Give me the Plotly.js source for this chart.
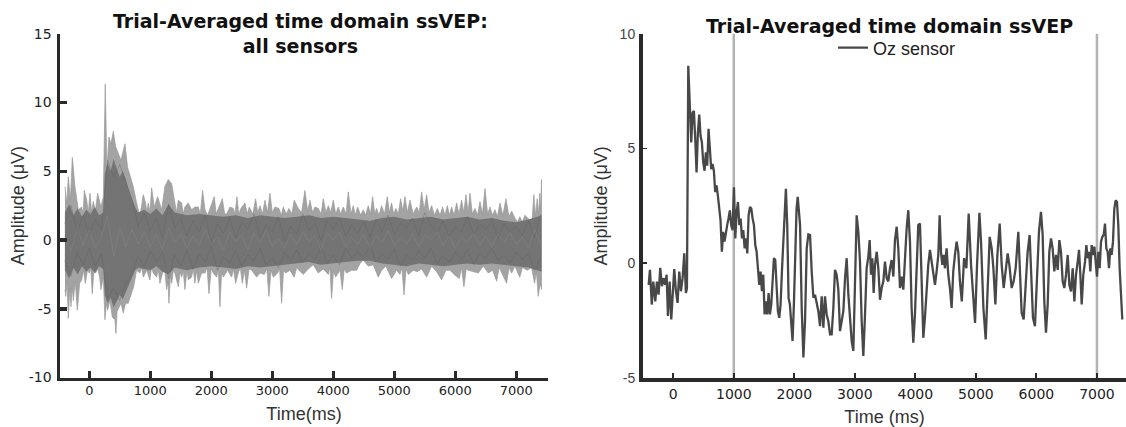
<!DOCTYPE html>
<html><head><meta charset="utf-8">
<script src="https://cdn.plot.ly/plotly-3.0.1.min.js"></script>
<style>html,body{margin:0;padding:0;background:#fff}#chart{width:1126px;height:427px}</style>
</head><body><div id="chart"></div>
<script>
// ---------- Left panel: all sensors (envelope of the sensor traces) ----------
const upperT = [-398,-370,-344,-310,-278,-235,-180,-125,-100,-82,-43,-15,11,40,66,100,137,191,230,262,290,322,355,394,432,475,519,557,585,628,672,721,776,830,885,923,945,967,995,1022,1065,1120,1186,1240,1295,1350,1404,1430,1459,1514,1540,1568,1623,1677,1732,1787,1820,1858,1897,1940,1979,2049,2080,2115,2181,2220,2252,2306,2361,2390,2421,2450,2486,2552,2590,2623,2680,2727,2760,2798,2840,2880,2920,2962,3000,3044,3109,3150,3180,3230,3273,3320,3360,3426,3480,3535,3580,3617,3660,3699,3754,3800,3836,3880,3918,3960,4000,4040,4082,4120,4164,4210,4246,4290,4328,4360,4399,4450,4491,4530,4573,4610,4645,4680,4710,4750,4792,4840,4885,4920,4956,4990,5027,5065,5104,5140,5175,5215,5257,5310,5366,5410,5448,5490,5530,5570,5612,5660,5705,5750,5792,5830,5869,5905,5940,5980,6022,6060,6104,6140,6175,6210,6241,6280,6323,6365,6405,6445,6487,6530,6569,6610,6651,6690,6733,6780,6831,6880,6924,6977,7020,7058,7100,7140,7222,7260,7288,7315,7343,7365,7386,7400,7414];
const upperV = [3.9,2.6,4.6,2.9,6.0,3.9,2.2,2.4,1.9,3.6,2.9,2.0,3.4,2.0,2.8,2.1,3.4,2.4,3.15,11.35,5.1,7.5,7.0,7.9,6.8,6.3,5.8,6.5,7.0,5.3,4.6,3.9,2.7,1.7,3.3,2.7,2.0,2.7,2.0,3.8,2.4,3.15,2.2,3.9,4.4,4.1,2.7,2.0,2.9,2.7,1.9,2.4,2.7,2.2,2.4,2.4,1.9,3.6,2.2,1.8,2.3,3.15,1.9,2.3,3.0,1.9,1.9,2.4,2.3,1.9,3.15,1.9,2.3,2.7,1.9,2.4,1.9,3.0,2.0,2.5,1.9,2.9,2.0,3.4,2.0,2.4,2.3,1.8,2.4,1.9,2.3,1.9,2.9,2.3,2.0,3.6,2.1,2.9,2.0,2.4,2.3,1.9,3.0,2.0,2.5,2.0,2.9,1.9,2.4,1.9,2.4,1.9,3.5,1.9,2.5,1.8,2.4,1.8,2.2,1.8,2.5,1.9,3.15,1.9,2.3,1.8,2.5,1.9,3.15,2.0,2.7,1.9,2.3,1.9,3.0,2.1,3.15,2.0,2.9,1.9,2.4,2.0,3.5,2.2,3.3,2.0,2.5,1.8,2.3,1.8,2.4,1.8,2.5,1.8,2.4,1.8,2.7,1.9,2.9,2.0,3.3,2.0,3.4,1.9,2.3,1.8,2.8,1.9,3.75,1.9,2.4,1.8,2.2,1.7,2.7,1.8,3.0,1.7,2.1,1.6,1.3,1.7,1.3,1.8,1.45,1.5,3.3,1.8,3.0,1.9,3.4,2.2,4.4];
const lowerT = [-398,-385,-365,-344,-320,-300,-280,-262,-230,-196,-158,-125,-95,-65,-30,0,25,49,75,104,140,170,191,230,257,280,301,339,377,421,437,455,475,519,557,595,639,683,727,776,830,860,885,940,994,1020,1049,1104,1130,1158,1213,1240,1268,1290,1306,1330,1350,1380,1404,1459,1490,1514,1540,1568,1600,1623,1677,1705,1732,1760,1787,1841,1897,1930,1962,2000,2033,2088,2115,2142,2170,2197,2268,2334,2365,2399,2443,2475,2508,2545,2579,2620,2661,2743,2798,2869,2910,2945,2980,3016,3087,3120,3153,3185,3218,3289,3360,3400,3437,3508,3590,3672,3754,3836,3918,3945,3972,4005,4038,4109,4147,4180,4218,4300,4382,4440,4491,4573,4655,4737,4792,4863,4956,5038,5093,5125,5159,5195,5230,5312,5377,5448,5530,5612,5694,5776,5847,5913,5979,6066,6100,6142,6180,6213,6295,6377,6459,6541,6612,6678,6720,6760,6842,6880,6924,6977,7058,7100,7180,7250,7300,7330,7360,7390,7414];
const lowerV = [-3.6,-4.1,-3.0,-5.7,-3.5,-4.85,-3.3,-4.4,-3.0,-5.1,-3.15,-2.9,-2.2,-3.15,-2.2,-2.4,-2.1,-3.9,-2.3,-2.4,-2.1,-2.7,-3.6,-2.7,-5.8,-4.6,-5.1,-4.4,-5.6,-5.8,-6.8,-5.2,-5.1,-4.6,-5.3,-4.6,-4.6,-4.1,-3.4,-2.2,-2.4,-2.0,-2.7,-2.2,-2.9,-2.0,-2.4,-2.7,-2.1,-3.15,-2.2,-2.3,-3.6,-3.0,-4.6,-2.6,-3.15,-2.2,-2.4,-3.4,-2.3,-2.7,-2.2,-3.6,-2.2,-2.9,-2.7,-2.1,-3.15,-2.2,-3.15,-2.4,-2.4,-2.0,-3.9,-2.1,-2.4,-2.7,-2.1,-4.85,-2.3,-2.7,-2.2,-2.7,-2.1,-3.15,-2.4,-2.0,-3.15,-2.2,-3.5,-2.1,-2.2,-2.7,-2.4,-2.5,-2.1,-4.1,-2.2,-2.7,-2.4,-2.1,-4.6,-2.2,-2.4,-2.2,-2.7,-2.0,-2.2,-2.5,-2.1,-1.8,-2.4,-2.1,-2.5,-2.0,-4.25,-2.2,-2.7,-2.2,-3.6,-2.1,-2.4,-2.2,-2.2,-1.7,-1.45,-1.9,-1.8,-2.7,-2.2,-1.9,-2.8,-2.2,-2.5,-2.0,-4.0,-2.1,-2.5,-2.2,-2.3,-2.1,-2.7,-1.9,-2.3,-2.9,-2.2,-2.2,-2.5,-2.8,-2.0,-3.4,-2.1,-2.2,-2.3,-2.4,-1.9,-2.4,-2.2,-3.0,-2.0,-2.3,-3.15,-2.0,-2.4,-1.9,-2.7,-2.0,-2.2,-2.0,-3.15,-2.3,-4.1,-3.15,-3.6];
// dense core of the sensor bundle
const coreT = [-400,-330,-260,-190,-120,-50,20,90,160,230,255,300,350,400,450,500,550,600,650,700,750,800,900,1000,1100,1200,1300,1400,1500,1600,1800,2000,2200,2400,2600,2800,3000,3200,3400,3600,3800,4000,4200,4400,4600,4800,5000,5200,5400,5600,5800,6000,6200,6400,6600,6800,7000,7200,7414];
const coreUpper = [2.0,2.6,1.8,2.3,1.7,2.2,1.9,2.4,1.8,2.0,4.8,5.6,5.0,5.9,5.2,4.6,5.0,4.4,3.6,3.0,2.4,2.0,2.2,1.9,2.3,1.8,2.6,2.0,1.9,1.8,1.9,1.8,1.7,1.8,1.6,1.8,1.7,1.6,1.7,1.8,1.6,1.7,1.6,1.5,1.4,1.6,1.7,1.5,1.6,1.7,1.5,1.6,1.7,1.5,1.6,1.4,1.3,1.5,1.8];
const coreLower = [-2.2,-2.8,-2.0,-2.5,-1.9,-2.3,-2.0,-2.4,-1.9,-2.1,-4.0,-4.6,-4.2,-4.9,-4.5,-4.0,-4.3,-3.8,-3.3,-2.7,-2.2,-2.0,-2.1,-2.2,-1.9,-2.3,-2.5,-2.0,-2.1,-2.2,-2.0,-1.9,-2.0,-2.1,-1.9,-2.0,-1.9,-1.8,-1.7,-1.6,-1.8,-1.7,-1.6,-1.5,-1.5,-1.7,-1.8,-1.9,-1.7,-1.8,-1.9,-1.8,-1.7,-1.8,-1.7,-1.8,-1.9,-2.0,-2.3];
// a few individual sensors visible inside the bundle
const sensorT = [-400,-300,-200,-100,0,100,200,300,400,500,600,700,800,900,1000,1100,1200,1300,1400,1500,1600,1700,1800,1900,2000,2100,2200,2300,2400,2500,2600,2700,2800,2900,3000,3100,3200,3300,3400,3500,3600,3700,3800,3900,4000,4100,4200,4300,4400,4500,4600,4700,4800,4900,5000,5100,5200,5300,5400,5500,5600,5700,5800,5900,6000,6100,6200,6300,6400,6500,6600,6700,6800,6900,7000,7100,7200,7300,7400];
const sensorA = [1.2,2.5,0.6,1.8,0.4,1.5,0.8,5.8,4.6,5.5,4.2,3.0,1.0,1.9,0.7,1.6,0.2,2.6,0.9,1.5,0.3,1.4,0.6,1.8,-0.2,1.2,0.5,1.6,0.1,1.3,0.8,1.9,0.2,1.1,0.6,1.7,-0.1,1.0,0.4,1.9,0.7,1.2,0.0,1.4,0.8,1.6,0.3,1.1,0.5,1.3,0.2,1.5,0.6,1.8,0.4,1.2,0.9,1.6,0.3,2.0,1.1,0.5,1.4,0.2,1.0,0.6,1.7,0.4,1.1,0.8,1.5,0.1,1.2,0.6,1.0,0.3,1.4,0.2,1.9];
const sensorB = [-1.5,-2.6,-0.9,-1.8,-0.6,-1.9,-1.0,-4.2,-3.5,-4.4,-3.1,-2.5,-1.2,-1.9,-0.8,-1.6,-0.9,-2.8,-1.1,-1.9,-0.7,-2.1,-1.0,-1.6,-0.5,-2.2,-1.2,-1.7,-0.8,-1.9,-1.1,-1.5,-0.6,-1.8,-1.3,-2.0,-0.9,-1.5,-0.7,-1.6,-1.0,-1.4,-0.5,-1.7,-1.1,-1.8,-0.6,-1.3,-0.9,-1.2,-0.4,-1.6,-1.0,-1.4,-0.7,-1.9,-1.1,-1.5,-0.8,-1.3,-0.6,-1.7,-1.2,-1.6,-0.9,-1.4,-0.7,-1.8,-1.0,-1.3,-0.6,-1.5,-1.1,-1.7,-0.9,-1.4,-1.0,-2.2,-1.3];
const sensorC = [0.3,-0.8,0.9,-0.4,0.7,-0.6,0.2,1.8,-1.2,0.9,-0.5,0.8,-0.3,0.6,-0.5,0.4,-0.7,0.9,-0.2,0.5,-0.6,0.3,-0.4,0.8,-0.3,0.2,-0.8,0.6,-0.1,0.4,-0.7,0.5,-0.2,0.7,-0.5,0.1,-0.6,0.4,-0.3,0.6,-0.1,0.3,-0.7,0.5,0.0,0.6,-0.5,0.2,-0.3,0.4,-0.6,0.3,-0.2,0.7,-0.4,0.2,-0.3,0.5,-0.5,0.4,0.0,0.6,-0.4,0.3,-0.6,0.2,-0.2,0.5,-0.4,0.3,-0.5,0.4,-0.1,0.5,-0.3,0.2,-0.6,0.8,-0.4];

// ---------- Right panel: Oz sensor ----------
const ozTime = [-407,-385,-355,-330,-297,-270,-242,-215,-187,-160,-132,-110,-88,-60,-33,-6,16,44,71,99,127,154,182,209,226,248,275,297,319,341,363,385,407,429,451,473,495,517,539,561,583,605,627,649,671,693,715,737,759,781,803,825,847,869,891,913,935,957,979,1003,1025,1047,1069,1091,1113,1135,1157,1179,1201,1223,1245,1267,1289,1311,1333,1355,1377,1399,1421,1443,1465,1487,1509,1531,1553,1575,1597,1619,1641,1663,1685,1707,1729,1751,1773,1795,1817,1839,1861,1883,1905,1927,1949,1971,1993,2015,2037,
2056,2095,2122,2150,2177,2205,2232,2260,2287,2315,2342,2370,2397,2425,2452,2480,2507,2535,2562,2590,2617,2645,2672,2700,2727,2755,2783,2810,2838,2865,2893,2920,2948,2975,3003,3030,3058,3085,3113,3140,3168,3195,3223,3245,3267,3289,3311,3333,3361,3388,3416,3443,3471,3498,3526,3553,3581,3608,3636,3663,3691,3718,3746,3773,3801,3828,3856,3883,3911,3938,3966,3993,4021,4048,4076,4103,4131,4158,4186,4213,4241,4268,4296,4324,4351,4379,4401,4423,4445,4467,4489,4516,4544,4571,4599,4626,4654,4681,4709,4736,
4767,4805,4843,4881,4920,4948,4986,5019,5058,5085,5124,5162,5195,5228,5261,5289,5322,5355,5393,5426,5459,5492,5525,5553,5591,5624,5657,5701,5729,5756,5789,5822,5855,5888,5910,5943,5976,6009,6042,6075,6103,6130,6158,6186,6213,6241,6268,6296,6323,6351,6379,6406,6434,6461,6489,6517,6544,6572,6599,6627,6654,6682,6704,6726,6748,6775,6803,6825,6847,6869,6891,6913,6935,6957,6979,7001,7023,7045,7067,7089,7111,7133,7155,7177,7199,7221,7243,7265,7287,7309,7331,7353,7375,7397,7419];
const ozAmp = [-0.94,-0.29,-1.8,-0.8,-1.66,-0.8,-1.37,-0.2,-1.0,-0.65,-0.94,-0.5,-2.3,-0.8,-2.45,-0.94,-0.25,-1.22,-1.73,-0.36,-1.22,-0.65,0.43,-1.3,-1.1,8.6,6.84,5.26,6.56,6.63,5.4,3.96,5.7,6.48,5.55,5.26,4.4,4.03,4.83,4.25,5.86,4.83,4.1,4.32,4.03,3.1,3.39,2.95,2.38,1.87,0.5,1.37,0.94,1.22,1.66,1.95,2.3,1.66,1.44,3.31,1.08,2.23,2.67,1.66,1.95,1.08,1.44,0.65,1.08,0.43,2.09,2.45,2.38,1.95,1.66,0.79,0.5,-0.22,-0.94,-0.36,-1.22,-0.5,-2.23,-1.66,-2.23,-1.3,-2.23,-1.8,-0.65,0.22,0.14,-1.22,-2.09,-2.38,-1.8,-0.36,0.94,2.23,3.24,1.66,-1.51,-1.8,-2.67,-3.39,-1.8,0.5,2.38,
2.89,1.66,-1.95,-4.1,-2.5,0.65,1.26,1.23,-0.36,-1.5,-1.37,-1.73,-2.09,-2.74,-1.44,-2.81,-1.44,-2.24,-2.53,-3.1,-3.1,-1.95,-0.29,-0.5,-1.15,-2.96,-2.53,-2.09,-0.65,0.22,-1.37,-2.53,-3.39,-3.82,-1.37,2.09,1.37,0.07,-2.53,-4.04,-2.24,-0.22,0.29,1.01,-0.5,0.22,-1.3,-0.07,0.5,-0.22,-1.59,-1.08,-0.79,0.07,-0.65,-0.79,-0.22,0.14,-0.58,1.01,1.59,0.65,-1.08,-0.58,-1.15,0.5,1.52,2.31,0.94,-1.95,-3.46,-2.24,-0.5,1.66,1.73,-1.08,-3.25,-2.38,-0.94,-0.07,0.58,0.07,-0.5,-0.94,-0.36,0.36,2.09,0.5,-0.07,0.36,-0.22,0.65,-0.5,-1.08,-1.95,-0.36,0.36,0.94,0.5,-0.79,
-1.66,0.22,-0.22,2.16,-0.07,-1.08,-2.6,-0.07,2.2,0.94,-1.95,-3.32,-1.37,1.15,0.65,-0.22,-1.8,0.36,1.73,-0.07,-1.08,-0.36,0.43,-0.07,-1.08,-0.79,-0.22,1.37,-0.22,-2.16,-2.45,-0.94,0.5,1.23,-0.07,-2.38,-2.74,-0.22,1.37,2.24,1.23,-1.66,-3.03,-1.8,0.5,1.08,0.65,-0.36,0.36,-0.29,1.01,0.5,-0.79,-1.08,-0.5,0.36,-0.94,-1.23,-0.22,-1.66,-0.5,0.07,0.58,-0.5,-1.8,-0.5,0.07,0.79,0.22,0.5,-0.36,0.79,0.36,0.72,0.07,-0.58,0.5,-0.22,0.94,1.15,1.23,1.73,0.65,0.5,-0.22,0.65,0.36,0.94,2.38,2.74,2.67,1.66,-0.22,-1.37,-2.45];
const markerTimes = [1000, 7000];   // stimulus on / off

// ---------- ticks ----------
const leftXTicks = [0,1000,2000,3000,4000,5000,6000,7000];
const leftXText = ['0','1000','2000','3000','4000','5000','6000','7000'];
const leftYTicks = [-10,-5,0,5,10,15];
const leftYText = ['-10','-5','0','5','10','15'];
const rightXTicks = [0,1000,2000,3000,4000,5000,6000,7000];
const rightXText = ['0','1000','2000','3000','4000','5000','6000','7000'];
const rightYTicks = [-5,0,5,10];
const rightYText = ['-5','0','5','10'];

const W = 1126, H = 427;
const rev = a => a.slice().reverse();

const traces = [
  {x: upperT.concat(rev(lowerT)), y: upperV.concat(rev(lowerV)), type:'scatter', mode:'lines',
   fill:'toself', fillcolor:'#a3a3a3', line:{color:'#999999', width:0.7}, xaxis:'x', yaxis:'y', showlegend:false, hoverinfo:'skip'},
  {x: coreT.concat(rev(coreT)), y: coreUpper.concat(rev(coreLower)), type:'scatter', mode:'lines',
   fill:'toself', fillcolor:'#747474', line:{color:'#747474', width:0}, xaxis:'x', yaxis:'y', showlegend:false, hoverinfo:'skip'},
  {x: sensorT, y: sensorA, type:'scatter', mode:'lines', line:{color:'#5e5e5e', width:0.6}, opacity:0.6, xaxis:'x', yaxis:'y', showlegend:false},
  {x: sensorT, y: sensorB, type:'scatter', mode:'lines', line:{color:'#5e5e5e', width:0.6}, opacity:0.6, xaxis:'x', yaxis:'y', showlegend:false},
  {x: sensorT, y: sensorC, type:'scatter', mode:'lines', line:{color:'#8c8c8c', width:0.6}, opacity:0.7, xaxis:'x', yaxis:'y', showlegend:false},
  {x: ozTime, y: ozAmp, type:'scatter', mode:'lines', name:'Oz sensor',
   line:{color:'#484848', width:2.3}, xaxis:'x2', yaxis:'y2', showlegend:true}
];

const axisTitleFont = {family:'Liberation Sans, Arial, sans-serif', size:18, color:'#333'};
const layout = {
  width:W, height:H, margin:{l:0, r:0, t:0, b:0},
  paper_bgcolor:'#fff', plot_bgcolor:'#fff',
  xaxis:{domain:[60/W, 548/W], range:[-480,7520], anchor:'y', showgrid:false, zeroline:false,
    showline:true, linecolor:'#2a2a2a', linewidth:3.5,
    ticks:'inside', ticklen:7, tickwidth:3.5, tickcolor:'#2a2a2a',
    tickmode:'array', tickvals:leftXTicks, ticktext:leftXText, ticklabelstandoff:-2,
    tickfont:{family:'DejaVu Sans, Verdana, sans-serif', size:13, color:'#222'},
    title:{text:'Time(ms)', font:axisTitleFont, standoff:12}, automargin:false},
  yaxis:{domain:[1-377.5/H, 1-33.8/H], range:[-10,15], anchor:'x', showgrid:false, zeroline:false,
    showline:true, linecolor:'#2a2a2a', linewidth:3.5,
    ticks:'inside', ticklen:7, tickwidth:3.5, tickcolor:'#2a2a2a',
    tickmode:'array', tickvals:leftYTicks, ticktext:leftYText, ticklabelstandoff:2,
    tickfont:{family:'DejaVu Sans, Verdana, sans-serif', size:14, color:'#222'},
    title:{text:'Amplitude (μV)', font:axisTitleFont, standoff:0}, automargin:false},
  xaxis2:{domain:[643/W, 1], range:[-500,7480], anchor:'y2', showgrid:false, zeroline:false,
    showline:true, linecolor:'#2a2a2a', linewidth:4,
    ticks:'inside', ticklen:5, tickwidth:2, tickcolor:'#2a2a2a',
    tickmode:'array', tickvals:rightXTicks, ticktext:rightXText, ticklabelstandoff:0,
    tickfont:{family:'DejaVu Sans, Verdana, sans-serif', size:14, color:'#222'},
    title:{text:'Time (ms)', font:axisTitleFont, standoff:12}, automargin:false},
  yaxis2:{domain:[1-378/H, 1-33.7/H], range:[-5,10], anchor:'x2', showgrid:false, zeroline:false,
    showline:true, linecolor:'#2a2a2a', linewidth:4,
    ticks:'inside', ticklen:4, tickwidth:1.5, tickcolor:'#2a2a2a',
    tickmode:'array', tickvals:rightYTicks, ticktext:rightYText, ticklabelstandoff:1,
    tickfont:{family:'Liberation Sans, Arial, sans-serif', size:14, color:'#444'},
    title:{text:'Amplitude (μV)', font:axisTitleFont, standoff:8}, automargin:false},
  shapes: markerTimes.map(t => ({type:'line', xref:'x2', yref:'y2 domain', x0:t, x1:t, y0:0, y1:1,
    line:{color:'#b3b3b3', width:2.5}, layer:'below'})),
  annotations:[
    {text:'<b>Trial-Averaged time domain ssVEP:</b><br><b>all sensors</b>', xref:'paper', yref:'paper',
     x:300/W, y:1-33.5/H, xanchor:'center', yanchor:'middle', showarrow:false,
     font:{family:'DejaVu Sans, Verdana, sans-serif', size:19, color:'#111'}},
    {text:'<b>Trial-Averaged time domain ssVEP</b>', xref:'paper', yref:'paper',
     x:889/W, y:1-26/H, xanchor:'center', yanchor:'middle', showarrow:false,
     font:{family:'DejaVu Sans, Verdana, sans-serif', size:19, color:'#111'}}
  ],
  showlegend:true,
  legend:{x:833/W, y:1-48/H, xanchor:'left', yanchor:'middle', bgcolor:'rgba(0,0,0,0)',
    borderwidth:0, font:{family:'Liberation Sans, Arial, sans-serif', size:18, color:'#222'}}
};

Plotly.newPlot('chart', traces, layout, {displayModeBar:false, staticPlot:true});
</script></body></html>
